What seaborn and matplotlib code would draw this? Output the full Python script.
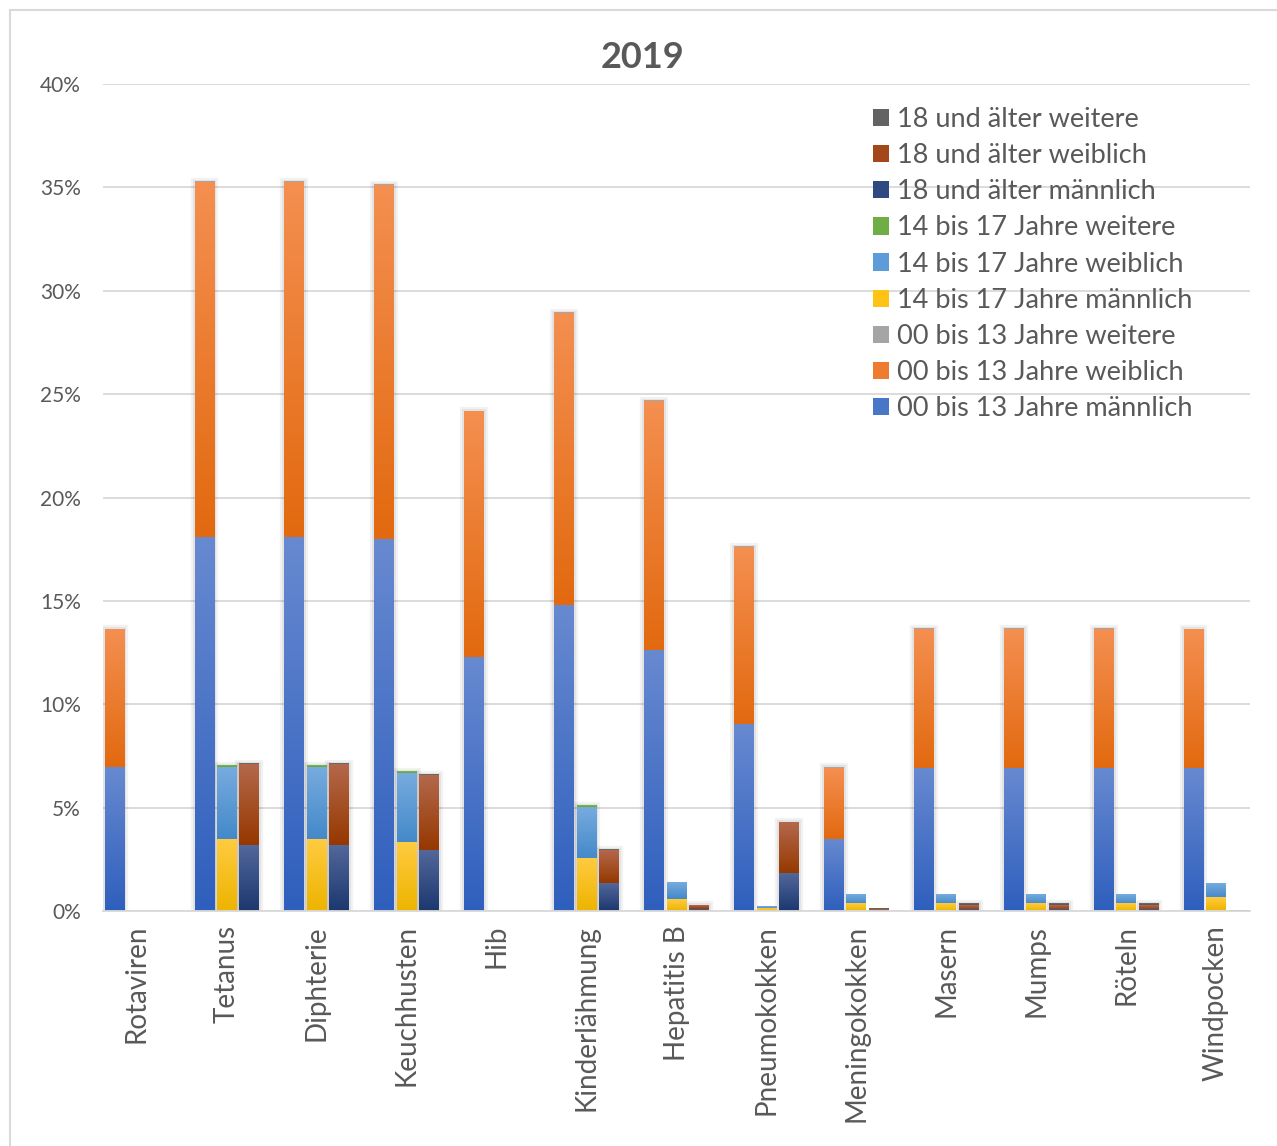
import numpy as np
import pandas as pd
import matplotlib
matplotlib.use("Agg")
import matplotlib.pyplot as plt
from matplotlib.patches import Patch
from matplotlib.lines import Line2D
from matplotlib.colors import to_rgb
import matplotlib.patheffects as pe
import seaborn as sns

categories = ["Rotaviren", "Tetanus", "Diphterie", "Keuchhusten", "Hib", "Kinderlähmung",
              "Hepatitis B", "Pneumokokken", "Meningokokken", "Masern", "Mumps", "Röteln", "Windpocken"]
ages = ["00 bis 13 Jahre", "14 bis 17 Jahre", "18 und älter"]

# values in percent
m0013 = [6.92, 18.05, 18.05, 17.95, 12.28, 14.80, 12.58, 9.00, 3.45, 6.87, 6.87, 6.87, 6.87]
w0013 = [6.68, 17.20, 17.20, 17.15, 11.86, 14.12, 12.09, 8.60, 3.48, 6.77, 6.77, 6.77, 6.73]
x0013 = [0.02, 0.02, 0.02, 0.02, 0.02, 0.02, 0.02, 0.02, 0.03, 0.02, 0.02, 0.02, 0.02]
m1417 = [0.00, 3.48, 3.48, 3.29, 0.00, 2.52, 0.58, 0.10, 0.34, 0.34, 0.34, 0.34, 0.63]
w1417 = [0.00, 3.47, 3.47, 3.38, 0.00, 2.51, 0.82, 0.14, 0.48, 0.48, 0.48, 0.48, 0.72]
x1417 = [0.00, 0.08, 0.08, 0.06, 0.00, 0.06, 0.00, 0.00, 0.00, 0.00, 0.00, 0.00, 0.00]
m18 = [0.00, 3.19, 3.19, 2.95, 0.00, 1.35, 0.08, 1.79, 0.02, 0.06, 0.06, 0.06, 0.00]
w18 = [0.00, 3.87, 3.87, 3.58, 0.00, 1.55, 0.16, 2.48, 0.08, 0.22, 0.22, 0.22, 0.00]
x18 = [0.00, 0.06, 0.06, 0.06, 0.00, 0.06, 0.03, 0.04, 0.02, 0.06, 0.06, 0.06, 0.04]

# (legend/solid colour, gradient top, gradient bottom)
colors = {
    ("00 bis 13 Jahre", "m"): ("#4A76C8", "#6789D0", "#2F5FBD"),
    ("00 bis 13 Jahre", "w"): ("#EE7B30", "#F48F50", "#E2690F"),
    ("00 bis 13 Jahre", "x"): ("#A5A5A5", "#B2B2B2", "#999999"),
    ("14 bis 17 Jahre", "m"): ("#FEC314", "#FFCB40", "#EDB400"),
    ("14 bis 17 Jahre", "w"): ("#5C9CD8", "#76ABDF", "#4489C9"),
    ("14 bis 17 Jahre", "x"): ("#70AD47", "#7DBF52", "#62A03B"),
    ("18 und älter", "m"): ("#2F4A80", "#52679A", "#1C386F"),
    ("18 und älter", "w"): ("#A4481A", "#B3684B", "#963800"),
    ("18 und älter", "x"): ("#636363", "#707070", "#555555"),
}

rows = []
for i, c in enumerate(categories):
    for age, (m, w, x) in zip(ages, [(m0013, w0013, x0013), (m1417, w1417, x1417), (m18, w18, x18)]):
        rows.append({"cat": c, "age": age, "m": m[i] / 100, "w": w[i] / 100, "x": x[i] / 100})
df = pd.DataFrame(rows)
df["mw"] = df["m"] + df["w"]
df["mwx"] = df["mw"] + df["x"]

plt.rcParams["font.family"] = ["Lato", "DejaVu Sans"]
fig = plt.figure(figsize=(12.77, 11.46), dpi=100)
ax = fig.add_axes([103 / 1277, 1 - 911 / 1146, (1250 - 103) / 1277, (911 - 84) / 1146])

layers = [("mwx", "mw", "x"), ("mw", "m", "w"), ("m", None, "m")]
for li, (col, lower, key) in enumerate(layers):
    n_before = len(ax.patches)
    sns.barplot(data=df, x="cat", y=col, hue="age", hue_order=ages, order=categories,
                palette={a: colors[(a, key)][0] for a in ages}, dodge=True, width=0.75, gap=0.12,
                errorbar=None, legend=False, saturation=1, linewidth=0, ax=ax)
    new_patches = ax.patches[n_before:]
    for p in new_patches:
        p.set_zorder(1 + li * 0.2)
        cx = p.get_x() + p.get_width() / 2
        ci = int(round(cx))
        ai = int(round((cx - ci) / 0.25)) + 1
        if not (0 <= ci < len(categories) and 0 <= ai < 3):
            continue
        row = df[(df["cat"] == categories[ci]) & (df["age"] == ages[ai])].iloc[0]
        top = row[col]
        bot = row[lower] if lower else 0.0
        if top - bot <= 0:
            continue
        if li == 0 and top > 0.002:
            p.set_path_effects([pe.Stroke(linewidth=6, foreground="#000000", alpha=0.05),
                                pe.Stroke(linewidth=3, foreground="#000000", alpha=0.06),
                                pe.Normal()])
        _, ctop, cbot = colors[(ages[ai], key)]
        t, b = np.array(to_rgb(ctop)), np.array(to_rgb(cbot))
        f = np.linspace(0, 1, 64)[:, None]
        grad = (t * (1 - f) + b * f)[:, None, :]
        ax.imshow(grad, extent=[p.get_x(), p.get_x() + p.get_width(), bot, top],
                  aspect="auto", interpolation="bilinear", zorder=1.1 + li * 0.2, origin="upper")

ax.set_xlim(-0.378, 12.378)
ax.set_ylim(0, 0.40)
ax.set_yticks(np.arange(0, 0.41, 0.05))
ax.set_yticklabels([f"{int(round(v * 100))}%" for v in np.arange(0, 0.41, 0.05)])
ax.set_xlabel("")
ax.set_ylabel("")
ax.grid(axis="y", color="#D9D9D9", linewidth=1.3)
ax.set_axisbelow(True)
for s in ["top", "right", "left"]:
    ax.spines[s].set_visible(False)
ax.spines["bottom"].set_color("#D9D9D9")
ax.spines["bottom"].set_linewidth(1.3)
ax.spines["bottom"].set_zorder(3)
ax.tick_params(axis="y", length=0, labelsize=15, colors="#595959", pad=16)
ax.tick_params(axis="x", length=0, labelsize=20, colors="#595959", pad=10)
for lbl in ax.get_xticklabels():
    lbl.set_rotation(90)
    lbl.set_va("top")
    lbl.set_ha("center")

fig.text(643 / 1277, 1 - 57 / 1146, "2019", fontsize=26, fontweight="bold", color="#595959",
         ha="center", va="center")

handles = []
for age in reversed(ages):
    for key, name in [("x", "weitere"), ("w", "weiblich"), ("m", "männlich")]:
        handles.append((Patch(facecolor=colors[(age, key)][0]), f"{age} {name}"))
leg = ax.legend([h for h, _ in handles], [l for _, l in handles], loc="upper left",
                bbox_to_anchor=(0.671, 0.972), frameon=False, fontsize=19.5,
                handlelength=0.6, handleheight=0.6, handletextpad=0.3, labelspacing=0.41,
                borderaxespad=0, borderpad=0)
leg.set_zorder(5)
for t in leg.get_texts():
    t.set_color("#595959")

# chart frame (top and left edges visible)
fig.add_artist(Line2D([10 / 1277, 1.0], [1 - 10 / 1146, 1 - 10 / 1146], transform=fig.transFigure,
                      color="#D9D9D9", linewidth=1.5))
fig.add_artist(Line2D([10 / 1277, 10 / 1277], [0.0, 1 - 10 / 1146], transform=fig.transFigure,
                      color="#D9D9D9", linewidth=1.5))

fig.savefig("out.png", dpi=100)
